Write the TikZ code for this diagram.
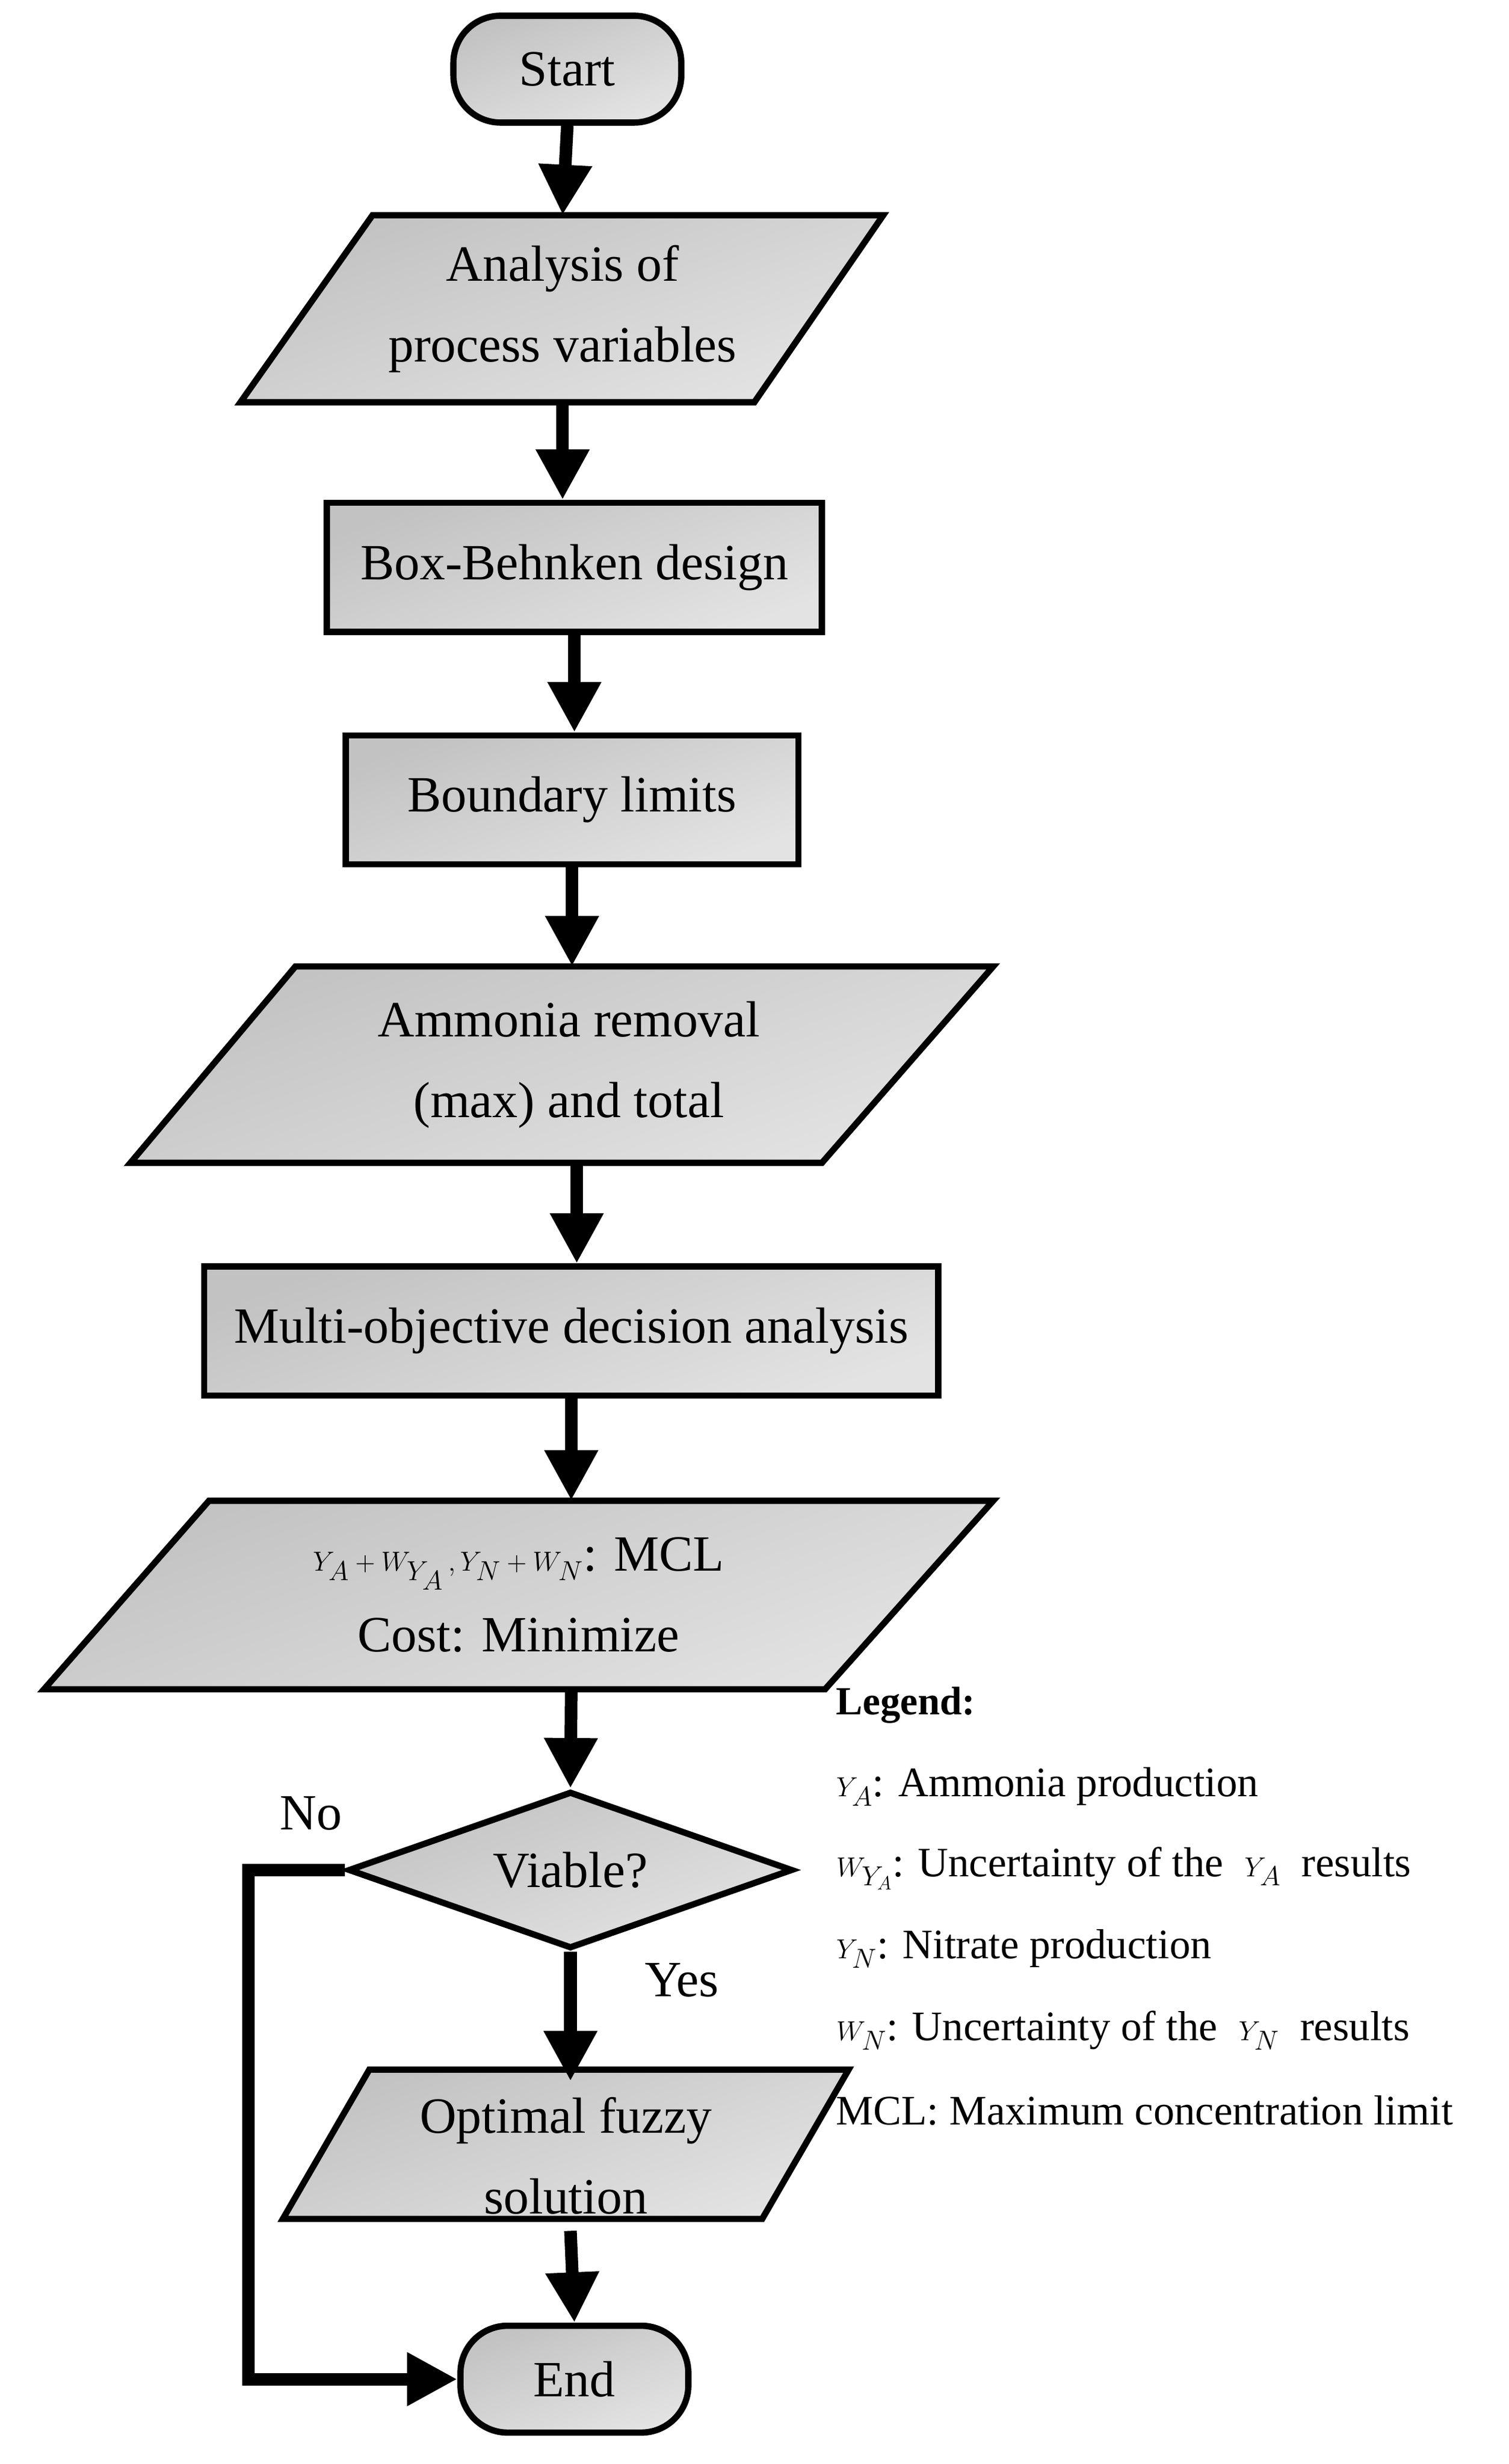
\documentclass[tikz,border=0pt]{standalone}
\usepackage{fontspec}
\setmainfont{Liberation Serif}
\usetikzlibrary{arrows.meta,shapes.geometric}
\begin{document}
\begin{tikzpicture}[x=0.05cm,y=-0.05cm,
  box/.style={draw=black,line width=0.2cm,top color=gray!48,bottom color=gray!22,shading angle=20},
  txt/.style={font=\fontsize{46}{73}\selectfont,align=center,inner sep=0},
  tnode/.style={txt,minimum width=8cm},
  rbox/.style={box,txt,rectangle},
  arr/.style={line width=0.4cm,-{Triangle[length=1.6cm,width=1.6cm]}},
  leg/.style={font=\fontsize{38}{44}\selectfont,anchor=west,inner sep=0}]
\useasboundingbox (0,0) rectangle (960,1568);
% Start
\node[rbox,rounded corners=1.5cm,minimum width=7.25cm,minimum height=3.4cm] (start) at (361,44) {Start};
% Analysis
\draw[box] (237,137) -- (562,137) -- (480,256) -- (153,256) -- cycle;
\node[tnode,minimum height=5.95cm] (ana) at (358,196.5) {Analysis of\\process variables};
% Box-Behnken
\node[rbox,minimum width=15.75cm,minimum height=4.1cm] (bbd) at (365.5,361) {Box-Behnken design};
% Boundary
\node[rbox,minimum width=14.4cm,minimum height=4.1cm] (bl) at (364,509) {Boundary limits};
% Ammonia
\draw[box] (188,615) -- (632,615) -- (523,740) -- (83,740) -- cycle;
\node[tnode,minimum height=6.25cm] (amm) at (362,677.5) {Ammonia removal\\(max) and total};
% Multi
\node[rbox,minimum width=23.35cm,minimum height=4.1cm] (moda) at (363.5,847) {Multi-objective decision analysis};
% Y parallelogram
\draw[box] (133,955) -- (632,955) -- (525,1075) -- (28,1075) -- cycle;
\node[tnode,minimum height=6cm] (obj) at (330,1015) {$Y_A+W_{Y_A}\,,Y_N+W_N$: MCL\\Cost: Minimize};
% Diamond
\node[box,txt,diamond,aspect=2.83,minimum width=14.15cm,minimum height=5cm] (via) at (363,1190) {Viable?};
% Optimal
\draw[box] (235,1317) -- (540,1317) -- (485,1412) -- (180,1412) -- cycle;
\node[tnode,minimum height=4.75cm] (opt) at (360,1372) {Optimal fuzzy\\solution};
% End
\node[rbox,rounded corners=1.5cm,minimum width=7.25cm,minimum height=3.4cm] (end) at (365.5,1514) {End};
% arrows
\draw[arr] (start.south) -- (ana.north);
\draw[arr] (ana.south) -- (ana.south |- bbd.north);
\draw[arr] (bbd.south) -- (bbd.south |- bl.north);
\draw[arr] (bl.south) -- (bl.south |- amm.north);
\draw[arr] ([xshift=0.25cm]amm.south) -- ([xshift=0.25cm]amm.south |- moda.north);
\draw[arr] (moda.south) -- (moda.south |- obj.north);
\draw[arr] (moda.south |- obj.south) -- (via.north);
\draw[arr] (via.south) -- (via.south |- opt.north);
\draw[arr] (via.south |- opt.south) -- (end.north);
\coordinate (c1) at (158,1190);
\coordinate (c2) at (158,1514);
\draw[line width=0.4cm,-{Triangle[length=1.6cm,width=1.6cm]}] (via.west) -- (c1) -- (c2) -- (end.west);
\node[txt] (no) at (198,1154) {No};
\node[txt] (yes) at (434,1260) {Yes};
% legend
\node[leg,font=\fontsize{36}{44}\selectfont\bfseries] (lg) at (532,1085) {Legend:};
\node[leg] (l1) at (532,1137) {$Y_A$: Ammonia production};
\node[leg] (l2) at (532,1189) {$W_{Y_A}$: Uncertainty of the \ $Y_A$ \ results};
\node[leg] (l3) at (532,1240) {$Y_N$: Nitrate production};
\node[leg] (l4) at (532,1292) {$W_N$: Uncertainty of the \ $Y_N$ \ results};
\node[leg] (l5) at (532,1343) {MCL: Maximum concentration limit};
\end{tikzpicture}
\end{document}
